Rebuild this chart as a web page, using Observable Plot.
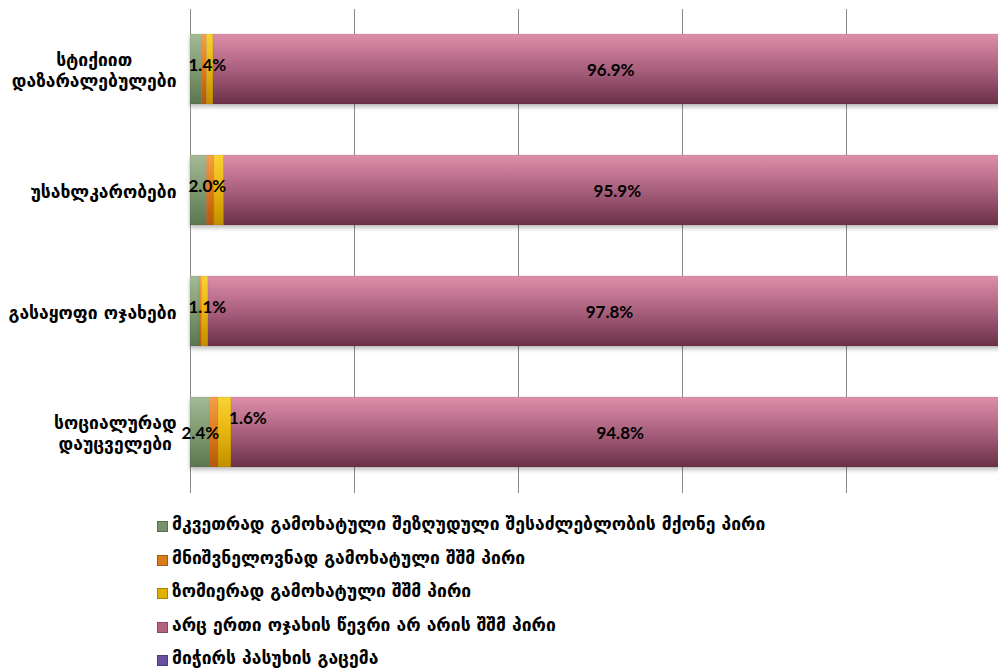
<!DOCTYPE html>
<html>
<head>
<meta charset="utf-8">
<script src="https://cdn.jsdelivr.net/npm/d3@7"></script>
<script src="https://cdn.jsdelivr.net/npm/@observablehq/plot@0.6"></script>
<style>
  html, body { margin: 0; padding: 0; background: #fff; overflow: hidden; }
  #chart { width: 998px; height: 500px; overflow: hidden; }
  #legend { position: relative; margin-left: 157px; margin-top: 15px; font-family: "DejaVu Sans", sans-serif; font-weight: bold; font-size: 17.5px; color: #000; }
  .li { height: 33.5px; display: flex; align-items: flex-start; white-space: nowrap; line-height: 19px; }
  .sw { width: 9px; height: 9px; margin-right: 4px; margin-top: 6px; border: 0.5px solid rgba(0,0,0,0.25); }
</style>
</head>
<body>
<div id="chart"></div>
<div id="legend"></div>
<script>
const categories = ["სტიქიით\nდაზარალებულები", "უსახლკარობები", "გასაყოფი ოჯახები", "სოციალურად\nდაუცველები"];
const seriesNames = [
  "მკვეთრად გამოხატული შეზღუდული შესაძლებლობის მქონე პირი",
  "მნიშვნელოვნად გამოხატული შშმ პირი",
  "ზომიერად გამოხატული შშმ პირი",
  "არც ერთი ოჯახის წევრი არ არის შშმ პირი",
  "მიჭირს პასუხის გაცემა"
];
const severe   = [1.4, 2.0, 1.1, 2.4];
const notable  = [0.6, 0.9, 0.3, 1.0];
const moderate = [0.8, 1.2, 0.8, 1.6];
const none     = [96.9, 95.9, 97.8, 94.8];
const noAnswer = [0.3, 0.0, 0.0, 0.2];
const gridTicks = [0, 20, 40, 60, 80, 100];

const seriesValues = [severe, notable, moderate, none, noAnswer];
const gradIds = ["g0", "g1", "g2", "g3", "g4"];
const gradStops = [
  ["#a4ba97", "#7f9a71", "#5c7650"],
  ["#f5a04a", "#e07a1c", "#b35808"],
  ["#f8d235", "#e8b50c", "#c08f00"],
  ["#de8ea9", "#a9607d", "#6a3048"],
  ["#9178c0", "#6a509c", "#48356f"]
];
const legendColors = ["#77926a", "#dd7a18", "#e2b000", "#b5627f", "#6a50a0"];

const rows = [];
categories.forEach((c, i) => {
  let x1 = 0;
  seriesValues.forEach((vals, s) => {
    const v = vals[i];
    rows.push({cat: c, series: s, x1: x1, x2: x1 + v, v: v});
    x1 += v;
  });
});

const rowOf = (ci, s) => rows.find(r => r.cat === categories[ci] && r.series === s);
const greenLabelsStart = [0, 1, 2].map(i => rowOf(i, 0));
const greenLabelsCenter = [3].map(i => rowOf(i, 0));
const yellowLabels = [3].map(i => rowOf(i, 2)).filter(r => r.v > 0);
const pinkLabels = rows.filter(r => r.series === 3);
const pct = d => d.v.toFixed(1) + "%";

const axisFontSize = 17.5;
const cv = document.createElement("canvas").getContext("2d");
cv.font = `bold ${axisFontSize}px 'DejaVu Sans'`;
const labelWidth = c => Math.max(...c.split("\n").map(l => cv.measureText(l).width));

const labelFont = {fontFamily: "Lato, sans-serif", fontWeight: "bold", fontSize: 17, fill: "#000"};

const plot = Plot.plot({
  width: 998,
  height: 500,
  marginLeft: 190,
  marginRight: -12,
  marginTop: 9,
  marginBottom: 7,
  style: {background: "transparent", overflow: "hidden"},
  x: {domain: [0, 100], axis: null},
  y: {domain: categories, axis: null, paddingInner: 0.42, paddingOuter: 0.21},
  marks: [
    Plot.ruleX(gridTicks, {stroke: "#8a8a8a", strokeWidth: 1}),
    Plot.barX(rows, {
      y: "cat", x1: "x1", x2: "x2",
      fill: d => `url(#${gradIds[d.series]})`,
      stroke: "rgba(0,0,0,0.12)", strokeWidth: 0.6
    }),
    Plot.text(greenLabelsStart, {y: "cat", x: 0, text: pct, textAnchor: "start", dx: -2, dy: -4, ...labelFont}),
    Plot.text(greenLabelsCenter, {y: "cat", x: d => (d.x1 + d.x2) / 2, text: pct, textAnchor: "middle", dy: 1, ...labelFont}),
    Plot.text(yellowLabels, {y: "cat", x: d => (d.x1 + d.x2) / 2, text: pct, textAnchor: "middle", dx: 23, dy: -14, ...labelFont}),
    Plot.text(pinkLabels, {y: "cat", x: d => (d.x1 + d.x2) / 2, text: pct, textAnchor: "middle", dy: 1, ...labelFont}),
    ...categories.map(c => Plot.text([c], {
      y: d => d, frameAnchor: "left", textAnchor: "middle",
      dx: -(14 + labelWidth(c) / 2),
      lineHeight: 1.25,
      fontFamily: "'DejaVu Sans', sans-serif", fontWeight: "bold", fontSize: axisFontSize, fill: "#000"
    }))
  ]
});

const svg = d3.select(plot);
const defs = svg.insert("defs", ":first-child");
gradStops.forEach((st, i) => {
  const g = defs.append("linearGradient").attr("id", gradIds[i])
    .attr("x1", 0).attr("y1", 0).attr("x2", 0).attr("y2", 1);
  g.append("stop").attr("offset", "0").attr("stop-color", st[0]);
  g.append("stop").attr("offset", "0.5").attr("stop-color", st[1]);
  g.append("stop").attr("offset", "1").attr("stop-color", st[2]);
});
const f = defs.append("filter").attr("id", "shadow").attr("x", "-5%").attr("y", "-10%").attr("width", "110%").attr("height", "140%");
f.append("feDropShadow").attr("dx", 0).attr("dy", 3).attr("stdDeviation", 2)
  .attr("flood-color", "#000").attr("flood-opacity", 0.25);
svg.selectAll("g[aria-label='bar']").attr("filter", "url(#shadow)");

document.getElementById("chart").appendChild(plot);

const leg = document.getElementById("legend");
seriesNames.forEach((n, i) => {
  const d = document.createElement("div");
  d.className = "li";
  d.innerHTML = `<span class="sw" style="background:${legendColors[i]}"></span><span>${n}</span>`;
  leg.appendChild(d);
});
</script>
</body>
</html>
